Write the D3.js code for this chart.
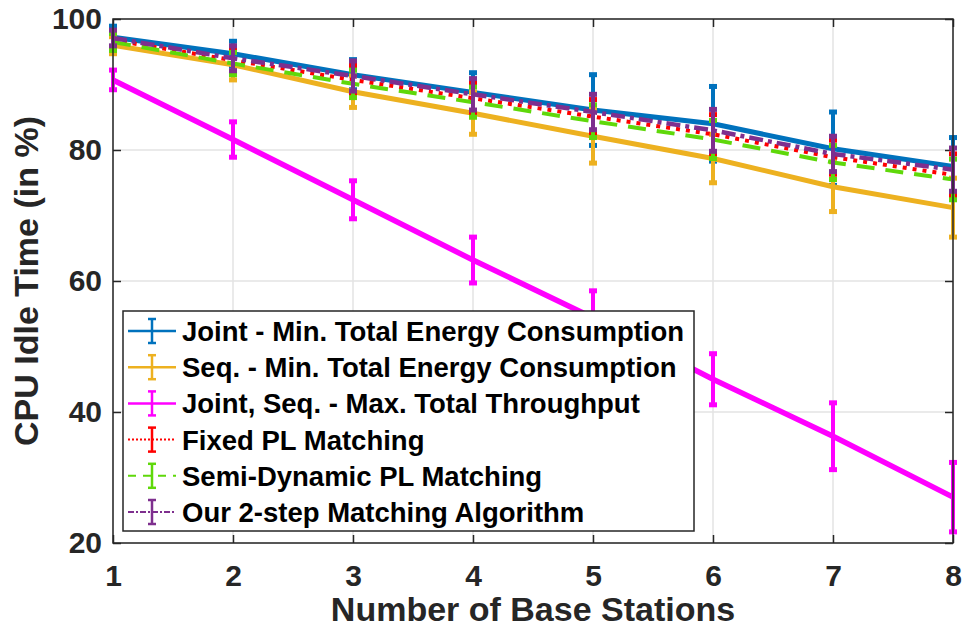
<!DOCTYPE html>
<html>
<head>
<meta charset="utf-8">
<script src="https://cdn.jsdelivr.net/npm/d3@7"></script>
<style>
  body { margin: 0; background: #fff; }
  text { font-family: "Liberation Sans", Arial, sans-serif; font-weight: bold; }
</style>
</head>
<body>
<div id="plot"></div>
<script>
    // Number of base stations
    const stations = [1, 2, 3, 4, 5, 6, 7, 8];

    // CPU idle time (in %) per scheme, with error bar half-widths
    const jointEnergy    = [97.2, 94.7, 91.5, 88.8, 86.1, 84.0, 80.2, 77.5];
    const jointEnergyErr = [1.7, 1.9, 2.3, 3.0, 5.4, 5.7, 5.6, 4.4];
    const seqEnergy      = [96.0, 93.0, 88.9, 85.6, 82.1, 78.7, 74.4, 71.2];
    const seqEnergyErr   = [1.3, 2.3, 2.4, 3.2, 4.1, 3.7, 3.8, 4.5];
    const maxThroughput  = [90.7, 81.6, 72.4, 63.2, 54.4, 45.0, 36.3, 27.0];
    const maxThroughputErr = [1.5, 2.7, 2.9, 3.5, 4.1, 3.9, 5.1, 5.3];
    const fixedPL        = [96.8, 93.7, 90.7, 87.9, 85.1, 82.4, 78.9, 76.2];
    const fixedPLErr     = [1.2, 1.8, 2.2, 2.4, 2.6, 3.0, 2.6, 3.2];
    const semiPL         = [96.5, 93.2, 90.1, 87.3, 84.4, 81.6, 78.1, 75.5];
    const semiPLErr      = [1.3, 1.7, 2.1, 2.3, 2.5, 2.9, 2.6, 3.1];
    const twoStep        = [97.1, 94.0, 91.3, 88.5, 85.8, 83.0, 79.4, 77.0];
    const twoStepErr     = [1.2, 1.9, 2.3, 2.4, 2.7, 3.2, 2.7, 3.3];

    const yTicks = [20, 40, 60, 80, 100];

    const series = [
        { name: 'Joint - Min. Total Energy Consumption', values: jointEnergy, err: jointEnergyErr, color: '#0072BD', width: 5, dash: null, legDash: null },
        { name: 'Seq. - Min. Total Energy Consumption', values: seqEnergy, err: seqEnergyErr, color: '#EDB120', width: 5, dash: null, legDash: null },
        { name: 'Joint, Seq. - Max. Total Throughput', values: maxThroughput, err: maxThroughputErr, color: '#FF00FF', width: 5.5, dash: null, legDash: null },
        { name: 'Fixed PL Matching', values: fixedPL, err: fixedPLErr, color: '#FF0000', width: 4, dash: '4,6', legDash: '2,2' },
        { name: 'Semi-Dynamic PL Matching', values: semiPL, err: semiPLErr, color: '#5FD80A', width: 4, dash: '18,11', legDash: '8,7' },
        { name: 'Our 2-step Matching Algorithm', values: twoStep, err: twoStepErr, color: '#7E2F8E', width: 4.5, dash: '14,5,4,5', legDash: '6,2,2,2' }
    ];

    // Set up the SVG container
    const svgWidth = 965;
    const svgHeight = 632;
    const margin = { top: 19, right: 12, bottom: 89, left: 113 };
    const axisColor = '#262626';

    const svg = d3.select('#plot')
        .append('svg')
        .attr('width', svgWidth)
        .attr('height', svgHeight);

    // Set up scales
    const xScale = d3.scaleLinear()
        .domain([1, 8])
        .range([margin.left, svgWidth - margin.right]);

    const yScale = d3.scaleLinear()
        .domain([20, 100])
        .range([svgHeight - margin.bottom, margin.top]);

    const x0 = margin.left, x1 = svgWidth - margin.right;
    const y0 = svgHeight - margin.bottom, y1 = margin.top;

    // Grid lines
    svg.append('g')
        .selectAll('line.vgrid')
        .data(stations)
        .enter()
        .append('line')
        .attr('x1', d => xScale(d)).attr('x2', d => xScale(d))
        .attr('y1', y1).attr('y2', y0)
        .attr('stroke', '#e3e3e3').attr('stroke-width', 1.5);

    svg.append('g')
        .selectAll('line.hgrid')
        .data(yTicks)
        .enter()
        .append('line')
        .attr('x1', x0).attr('x2', x1)
        .attr('y1', d => yScale(d)).attr('y2', d => yScale(d))
        .attr('stroke', '#e3e3e3').attr('stroke-width', 1.5);

    // Axes with inward ticks on all four sides
    const tickLen = 8;
    svg.append('g')
        .attr('transform', `translate(0, ${y0})`)
        .call(d3.axisBottom(xScale).tickValues(stations).tickSize(-tickLen).tickPadding(tickLen + 14).tickFormat(d3.format('d')))
        .call(g => g.select('.domain').remove());

    svg.append('g')
        .attr('transform', `translate(0, ${y1})`)
        .call(d3.axisTop(xScale).tickValues(stations).tickSize(-tickLen).tickFormat(''))
        .call(g => g.select('.domain').remove());

    svg.append('g')
        .attr('transform', `translate(${x0}, 0)`)
        .call(d3.axisLeft(yScale).tickValues(yTicks).tickSize(-tickLen).tickPadding(tickLen + 3))
        .call(g => g.select('.domain').remove());

    svg.append('g')
        .attr('transform', `translate(${x1}, 0)`)
        .call(d3.axisRight(yScale).tickValues(yTicks).tickSize(-tickLen).tickFormat(''))
        .call(g => g.select('.domain').remove());

    svg.selectAll('.tick line').attr('stroke', axisColor).attr('stroke-width', 1.5);
    svg.selectAll('.tick text')
        .attr('fill', axisColor)
        .style('font-size', '30px')
        .style('font-family', '"Liberation Sans", Arial, sans-serif')
        .style('font-weight', 'bold');

    // Series lines and error bars
    const line = d3.line()
        .x((d, i) => xScale(stations[i]))
        .y(d => yScale(d));

    const cap = 4;
    series.forEach(s => {
        const g = svg.append('g');
        g.append('path')
            .datum(s.values)
            .attr('d', line)
            .attr('fill', 'none')
            .attr('stroke', s.color)
            .attr('stroke-width', s.width)
            .attr('stroke-dasharray', s.dash);

        const bars = g.selectAll('g.err')
            .data(s.values.map((v, i) => ({ x: stations[i], lo: v - s.err[i], hi: v + s.err[i] })))
            .enter()
            .append('g');
        bars.append('line')
            .attr('x1', d => xScale(d.x)).attr('x2', d => xScale(d.x))
            .attr('y1', d => yScale(d.lo)).attr('y2', d => yScale(d.hi))
            .attr('stroke', s.color).attr('stroke-width', 4);
        bars.append('line')
            .attr('x1', d => xScale(d.x) - cap).attr('x2', d => xScale(d.x) + cap)
            .attr('y1', d => yScale(d.hi)).attr('y2', d => yScale(d.hi))
            .attr('stroke', s.color).attr('stroke-width', 5);
        bars.append('line')
            .attr('x1', d => xScale(d.x) - cap).attr('x2', d => xScale(d.x) + cap)
            .attr('y1', d => yScale(d.lo)).attr('y2', d => yScale(d.lo))
            .attr('stroke', s.color).attr('stroke-width', 5);
    });

    // Axis box
    svg.append('rect')
        .attr('x', x0).attr('y', y1)
        .attr('width', x1 - x0).attr('height', y0 - y1)
        .attr('fill', 'none')
        .attr('stroke', axisColor)
        .attr('stroke-width', 1.5);

    // Legend
    const legend = svg.append('g').attr('transform', 'translate(123, 311)');
    legend.append('rect')
        .attr('width', 571).attr('height', 220)
        .attr('fill', '#fff')
        .attr('stroke', axisColor)
        .attr('stroke-width', 1.5);

    const rowH = 36.2;
    const items = legend.selectAll('g.item')
        .data(series)
        .enter()
        .append('g')
        .attr('transform', (d, i) => `translate(0, ${20 + i * rowH})`);
    items.append('line')
        .attr('x1', 5).attr('x2', 53).attr('y1', 0).attr('y2', 0)
        .attr('stroke', d => d.color)
        .attr('stroke-width', d => d.legDash ? 2 : 2.5)
        .attr('stroke-dasharray', d => d.legDash);
    items.append('line')
        .attr('x1', 29).attr('x2', 29).attr('y1', -12).attr('y2', 12)
        .attr('stroke', d => d.color).attr('stroke-width', 2.5);
    items.append('line')
        .attr('x1', 25).attr('x2', 33).attr('y1', -12).attr('y2', -12)
        .attr('stroke', d => d.color).attr('stroke-width', 2.5);
    items.append('line')
        .attr('x1', 25).attr('x2', 33).attr('y1', 12).attr('y2', 12)
        .attr('stroke', d => d.color).attr('stroke-width', 2.5);
    items.append('text')
        .attr('x', 59)
        .attr('y', 10)
        .attr('fill', '#000')
        .style('font-size', '27.5px')
        .text(d => d.name);

    // X-axis label
    svg.append('text')
        .attr('transform', `translate(${(x0 + x1) / 2}, 621)`)
        .style('text-anchor', 'middle')
        .style('font-size', '34px')
        .attr('fill', axisColor)
        .text('Number of Base Stations');

    // Y-axis label
    svg.append('text')
        .attr('transform', `translate(38, ${(y0 + y1) / 2}) rotate(-90)`)
        .style('text-anchor', 'middle')
        .style('font-size', '34px')
        .attr('fill', axisColor)
        .text('CPU Idle Time (in %)');
</script>
</body>
</html>
